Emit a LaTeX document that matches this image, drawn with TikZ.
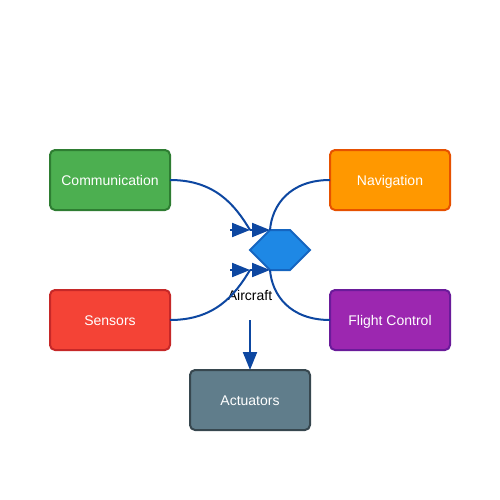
\documentclass[tikz,border=0pt]{standalone}
\usepackage{fontspec}
\setmainfont{Liberation Sans}
\usetikzlibrary{arrows.meta,calc}
\definecolor{arrowblue}{HTML}{0D47A1}
\definecolor{hexfill}{HTML}{1E88E5}
\definecolor{hexline}{HTML}{1565C0}
\definecolor{gfill}{HTML}{4CAF50}\definecolor{gline}{HTML}{2E7D32}
\definecolor{ofill}{HTML}{FF9800}\definecolor{oline}{HTML}{E65100}
\definecolor{rfill}{HTML}{F44336}\definecolor{rline}{HTML}{C62828}
\definecolor{pfill}{HTML}{9C27B0}\definecolor{pline}{HTML}{6A1B9A}
\definecolor{sfill}{HTML}{607D8B}\definecolor{sline}{HTML}{37474F}
\begin{document}
\begin{tikzpicture}[x=1pt,y=-1pt,
  box/.style={rounded corners=5pt, line width=2pt, minimum width=120pt, minimum height=60pt,
    text=white, font=\fontsize{14}{16}\selectfont, text height=11pt, text depth=0pt,
    inner sep=0pt, outer sep=0pt},
  conn/.style={line width=2pt, draw=arrowblue},
  tipped/.style={conn, -{Triangle[length=18pt,width=14pt]}, arrowblue}]
\useasboundingbox (0,0) rectangle (500,500);
\node[box, fill=gfill, draw=gline] (comm) at (110,180) {Communication};
\node[box, fill=ofill, draw=oline] (nav) at (390,180) {Navigation};
\node[box, fill=rfill, draw=rline] (sens) at (110,320) {Sensors};
\node[box, fill=pfill, draw=pline] (fc) at (390,320) {Flight Control};
\node[box, fill=sfill, draw=sline] (act) at (250,400) {Actuators};
% hexagon
\draw[fill=hexfill, draw=hexline, line width=2pt, line join=miter]
  (250,250) -- (270,230) -- (290,230) -- (310,250) -- (290,270) -- (270,270) -- cycle;
\node[font=\fontsize{14}{16}\selectfont, text=black, text height=11pt, text depth=0pt, inner sep=0pt] (air) at (250,295) {Aircraft};
\coordinate (t1) at (250,230);
\coordinate (t2) at (270,230);
\coordinate (t3) at (250,270);
\coordinate (t4) at (270,270);
\coordinate (s5) at (250,320);
\draw[conn] (comm.east) .. controls (215,180) and (235,205) .. (t1);
\draw[conn] (nav.west) .. controls (290,180) and (272,205) .. (t2);
\draw[conn] (sens.east) .. controls (215,320) and (235,295) .. (t3);
\draw[conn] (fc.west) .. controls (290,320) and (272,295) .. (t4);
\foreach \tp in {t1,t2,t3,t4}{
  \draw[tipped] ($(\tp)+(-20,0)$) -- (\tp);
}
\draw[tipped] (s5) -- (act.north);
\end{tikzpicture}
\end{document}
